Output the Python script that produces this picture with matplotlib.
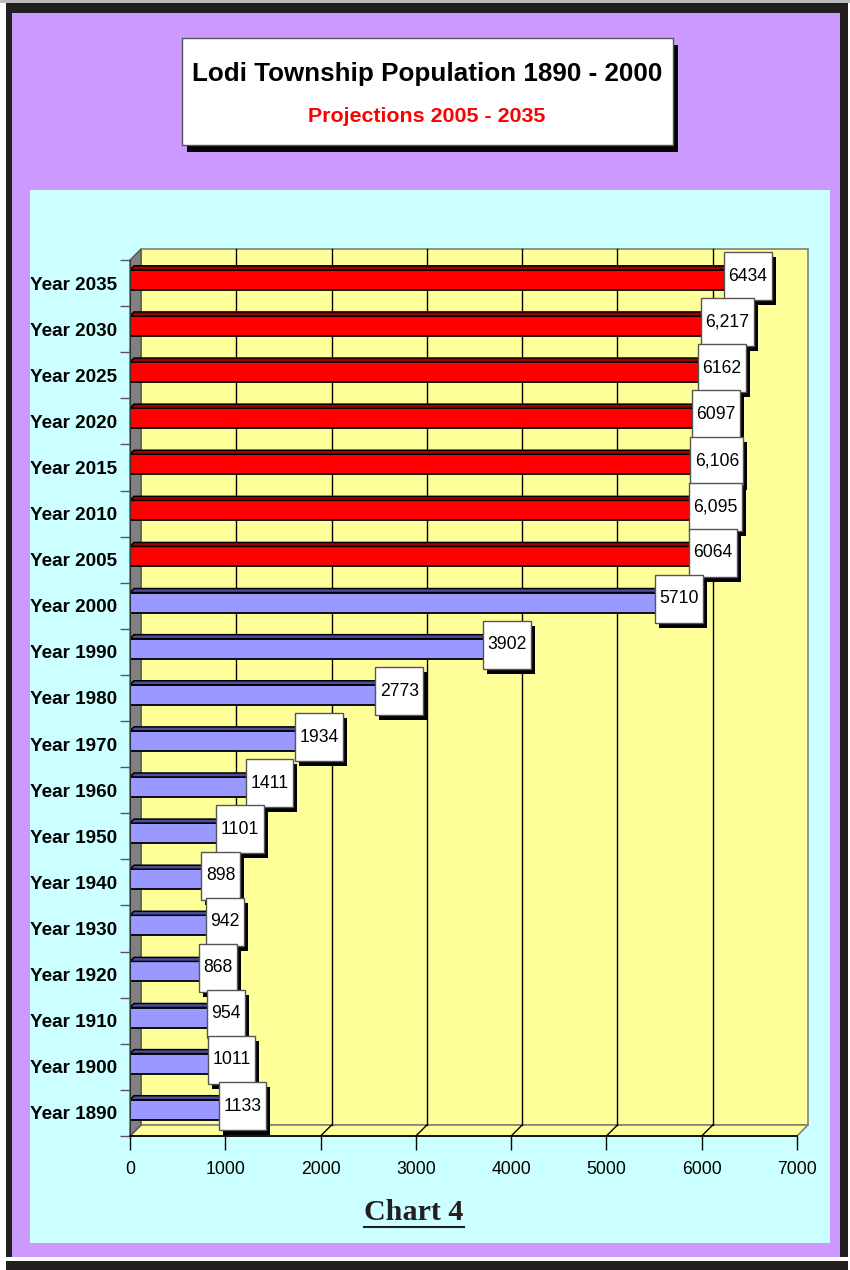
import matplotlib
matplotlib.use("Agg")
import matplotlib.pyplot as plt
from matplotlib.patches import Rectangle, Polygon
from matplotlib import font_manager as fm

years = ["Year 1890", "Year 1900", "Year 1910", "Year 1920", "Year 1930", "Year 1940",
         "Year 1950", "Year 1960", "Year 1970", "Year 1980", "Year 1990", "Year 2000",
         "Year 2005", "Year 2010", "Year 2015", "Year 2020", "Year 2025", "Year 2030",
         "Year 2035"]
population = [1133, 1011, 954, 868, 942, 898, 1101, 1411, 1934, 2773, 3902, 5710,
              6064, 6095, 6106, 6097, 6162, 6217, 6434]
value_labels = ["1133", "1011", "954", "868", "942", "898", "1101", "1411", "1934",
                "2773", "3902", "5710", "6064", "6,095", "6,106", "6097", "6162",
                "6,217", "6434"]
projection = [False] * 12 + [True] * 7
x_ticks = [0, 1000, 2000, 3000, 4000, 5000, 6000, 7000]

TITLE = "Lodi Township Population 1890 - 2000"
SUBTITLE = "Projections 2005 - 2035"


def pick_font(names):
    for n in names:
        try:
            fm.findfont(fm.FontProperties(family=n), fallback_to_default=False)
            return n
        except Exception:
            pass
    return "DejaVu Sans"


NARROW = pick_font(["Liberation Sans Narrow", "Liberation Sans", "Arial"])
SERIF = pick_font(["Liberation Serif", "DejaVu Serif"])
# the regular Liberation Sans is wider than Arial Narrow, so shrink a bit
SHRINK = 1.0 if "Narrow" in NARROW else 0.84

W, H = 850, 1270
PT = 0.72  # px -> pt at dpi 100

fig = plt.figure(figsize=(W / 100, H / 100), dpi=100)

# background frame, drawn in pixel coordinates
bg = fig.add_axes([0, 0, 1, 1])
bg.set_xlim(0, W)
bg.set_ylim(H, 0)
bg.axis("off")
bg.add_patch(Rectangle((0, 0), W, 3, fc="#BBBBBB", ec="none"))
bg.add_patch(Rectangle((6, 3), 842, H, fc="#231F20", ec="none"))
bg.add_patch(Rectangle((12, 13), 828, 1244, fc="#CC99FF", ec="none"))
bg.add_patch(Rectangle((6, 1257), 842, 4, fc="white", ec="none"))
bg.add_patch(Rectangle((30, 190), 800, 1053, fc="#CCFFFF", ec="none"))

# title box
bg.add_patch(Rectangle((187, 45), 491, 107, fc="black", ec="none"))
bg.add_patch(Rectangle((182, 38), 491, 107, fc="white", ec="#555555", lw=1))
bg.text(427, 74, TITLE, ha="center", va="center", fontsize=31 * PT * SHRINK,
        fontweight="bold", family=NARROW, color="black")
bg.text(427, 117, SUBTITLE, ha="center", va="center", fontsize=25.5 * PT * SHRINK,
        fontweight="bold", family=NARROW, color="#FF0000")

chart_txt = bg.text(414, 1213, "Chart 4", ha="center", va="center", fontsize=30 * PT,
                    fontweight="bold", family=SERIF, color="#231F20")

# main plot, front plane of the 3D box
x0, x1, y_top, y_bot = 130, 797, 260, 1136
ax = fig.add_axes([x0 / W, (H - y_bot) / H, (x1 - x0) / W, (y_bot - y_top) / H])
ax.set_xlim(0, 7000)
n = len(years)
ax.set_ylim(-0.5, n - 0.5)
ax.patch.set_visible(False)

sx = 7000 / (x1 - x0)          # data units per px (x)
sy = n / (y_bot - y_top)        # data units per px (y)
dx, dy = 11 * sx, 11 * sy       # wall depth
ylo, yhi = -0.5, n - 0.5

# back wall
ax.add_patch(Rectangle((dx, ylo + dy), 7000, n, fc="#FFFF99", ec="#808080",
                       lw=1.2, zorder=0, clip_on=False))
# floor
ax.add_patch(Polygon([(0, ylo), (7000, ylo), (7000 + dx, ylo + dy), (dx, ylo + dy)],
                     closed=True, fc="#FFFF99", ec="#808080", lw=1.2, zorder=0.5,
                     clip_on=False))
# left wall
ax.add_patch(Polygon([(0, ylo), (dx, ylo + dy), (dx, yhi + dy), (0, yhi)],
                     closed=True, fc="#808080", ec="#555555", lw=1, zorder=0.6,
                     clip_on=False))
# grid lines on wall and floor
for v in x_ticks[1:-1]:
    ax.plot([v + dx, v + dx], [ylo + dy, yhi + dy], color="black", lw=1,
            zorder=0.7, clip_on=False)
    ax.plot([v, v + dx], [ylo, ylo + dy], color="black", lw=1, zorder=0.7,
            clip_on=False)

# bars with a shallow 3D top
bh = 20 * sy
bdx, bdy = 4 * sx, 4 * sy
yc = [i + 0.07 for i in range(n)]
face = ["#FF0000" if p else "#9999FF" for p in projection]
top = ["#A00000" if p else "#4D4D99" for p in projection]
ax.barh(yc, population, height=bh, color=face, edgecolor="black", linewidth=1.3,
        zorder=2)
for i in range(n):
    v, yb = population[i], yc[i] + bh / 2
    ax.add_patch(Polygon([(0, yb), (v, yb), (v + bdx, yb + bdy), (bdx, yb + bdy)],
                         closed=True, fc=top[i], ec="black", lw=1.1, zorder=2))
    ax.add_patch(Polygon([(v, yb - bh), (v, yb), (v + bdx, yb + bdy), (v + bdx, yb - bh + bdy)],
                         closed=True, fc=top[i], ec="black", lw=1.1, zorder=2))

# axes, ticks
for s in ["top", "right"]:
    ax.spines[s].set_visible(False)
ax.spines["left"].set_color("#333333")
ax.spines["bottom"].set_color("black")
ax.spines["bottom"].set_linewidth(1.2)
ax.set_xticks(x_ticks)
ax.set_xticklabels([str(t) for t in x_ticks])
ax.tick_params(axis="x", length=14 * PT, width=1, pad=11 * PT,
               labelsize=21 * PT * SHRINK)
ax.set_yticks(range(n))
ax.set_yticklabels(years)
ax.set_yticks([i + 0.5 for i in range(-1, n)], minor=True)
ax.tick_params(axis="y", which="major", length=0, pad=13 * PT,
               labelsize=22.5 * PT * SHRINK)
ax.tick_params(axis="y", which="minor", length=10 * PT, width=1, color="#555555")
for lab in ax.get_xticklabels():
    lab.set_family(NARROW)
for lab in ax.get_yticklabels():
    lab.set_family(NARROW)
    lab.set_fontweight("bold")

# value label boxes with shadow; lower rows drawn on top
fig.canvas.draw()
rend = fig.canvas.get_renderer()
for k, i in enumerate(range(n - 1, -1, -1)):
    z = 3 + k * 0.1
    cx = population[i] + bdx + 1 * sx
    cy = i + 0.15
    t = ax.text(cx, cy, value_labels[i], ha="center", va="center",
                fontsize=21 * PT * SHRINK, family=NARROW, color="black",
                zorder=z + 0.05, clip_on=False)
    w = (t.get_window_extent(rend).width + 9) * sx
    h = 48 * sy
    ax.add_patch(Rectangle((cx - w / 2 + 4 * sx, cy - h / 2 - 5 * sy), w, h, fc="black",
                           ec="none", zorder=z, clip_on=False))
    ax.add_patch(Rectangle((cx - w / 2, cy - h / 2), w, h, fc="white", ec="#555555",
                           lw=1, zorder=z + 0.02, clip_on=False))

# underline for "Chart 4"
bb = chart_txt.get_window_extent(rend)
bg.plot([bb.x0, bb.x1], [1227, 1227], color="#231F20", lw=1.5)

fig.savefig("out.png", dpi=100)
